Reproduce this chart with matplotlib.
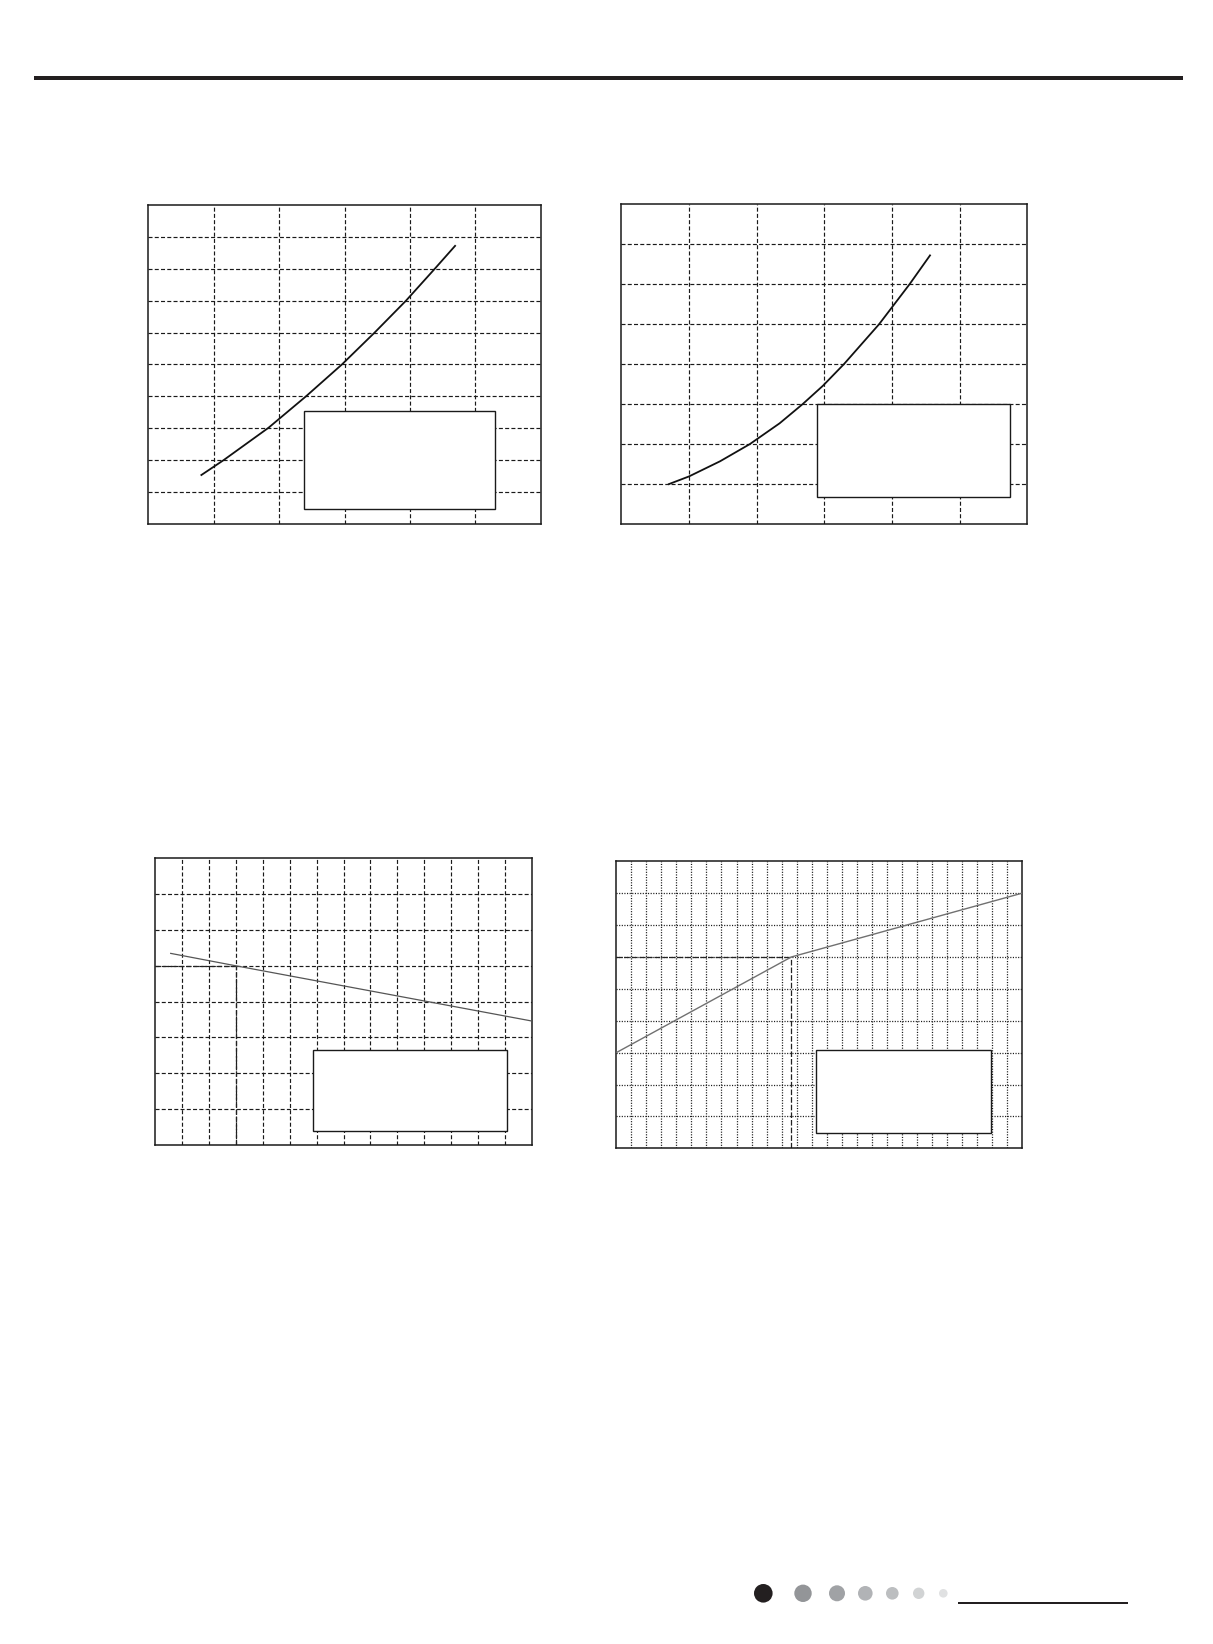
import numpy as np
import matplotlib
matplotlib.use("Agg")
import matplotlib.pyplot as plt
from matplotlib.patches import Rectangle, Circle

W, H = 1213, 1644

## curve data, in grid units (columns along x, rows along y)
c1_x = [0.80, 1.15, 1.84, 2.41, 2.96, 3.46, 3.94, 4.38, 4.70]
c1_y = [1.52, 2.00, 3.02, 4.00, 5.00, 6.00, 7.00, 8.00, 8.74]

c2_x = [0.69, 1.00, 1.46, 1.90, 2.34, 2.68, 2.98, 3.29, 3.81, 4.26, 4.57]
c2_y = [0.99, 1.19, 1.57, 2.00, 2.52, 3.00, 3.46, 4.00, 5.00, 6.00, 6.74]

c3_x = [0.55, 3.00, 14.0]
c3_y = [5.35, 5.00, 3.46]
c3_ref = (3.0, 5.0)

c4_x = [0.0, 11.65, 27.0]
c4_y = [3.0, 6.0, 8.0]
c4_ref = (11.65, 6.0)

## page layout in pixels: (left, top, right, bottom)
charts = [
    dict(box=(148.3, 205.0, 540.7, 524.0), ncol=6, nrow=10, style="dash",
         x=c1_x, y=c1_y, color="#111111", lw=1.3, legend=(304.3, 411.0, 494.7, 509.3)),
    dict(box=(621.3, 204.3, 1027.3, 524.0), ncol=6, nrow=8, style="dash",
         x=c2_x, y=c2_y, color="#111111", lw=1.3, legend=(816.7, 404.3, 1010.3, 497.0)),
    dict(box=(155.3, 858.3, 531.7, 1145.0), ncol=14, nrow=8, style="dash",
         x=c3_x, y=c3_y, color="#555555", lw=0.9, legend=(313.3, 1050.3, 507.3, 1131.3),
         ref=c3_ref),
    dict(box=(616.3, 861.3, 1022.0, 1148.3), ncol=27, nrow=9, style="dot",
         x=c4_x, y=c4_y, color="#707070", lw=1.0, legend=(815.7, 1050.3, 991.3, 1133.3),
         ref=c4_ref),
]

fig = plt.figure(figsize=(W / 100, H / 100), dpi=100)
fig.patch.set_facecolor("white")

for c in charts:
    l, t, r, b = c["box"]
    ax = fig.add_axes([l / W, 1 - b / H, (r - l) / W, (b - t) / H])
    ax.set_xlim(0, c["ncol"])
    ax.set_ylim(0, c["nrow"])
    ax.set_xticks([])
    ax.set_yticks([])
    for s in ax.spines.values():
        s.set_linewidth(1.1)
        s.set_color("#1a1a1a")

    if c["style"] == "dash":
        gkw = dict(color="#1a1a1a", lw=0.85, dashes=(3.4, 1.9))
    else:
        gkw = dict(color="#1a1a1a", lw=0.9, dashes=(0.9, 1.2))
    for i in range(1, c["ncol"]):
        ax.axvline(i, **gkw, zorder=1)
    for j in range(1, c["nrow"]):
        ax.axhline(j, **gkw, zorder=1)

    if "ref" in c:
        rx, ry = c["ref"]
        rkw = dict(color="#222222", lw=0.9, dashes=(4.5, 1.6), zorder=2)
        ax.plot([rx, rx], [0, ry], **rkw)
        ax.plot([0, rx], [ry, ry], **rkw)

    ax.plot(c["x"], c["y"], color=c["color"], lw=c["lw"], zorder=3,
            solid_capstyle="butt", solid_joinstyle="round")

# overlay in pixel units for the page furniture and legend boxes
page = fig.add_axes([0, 0, 1, 1], zorder=10)
page.set_xlim(0, W)
page.set_ylim(H, 0)
page.axis("off")
page.patch.set_alpha(0)

for c in charts:
    l, t, r, b = c["legend"]
    page.add_patch(Rectangle((l, t), r - l, b - t, facecolor="white",
                             edgecolor="#1a1a1a", lw=1.0))

# header rule
page.add_patch(Rectangle((34, 76.5), 1149, 4, facecolor="#231f20", edgecolor="none"))

# footer dots and rule
dot_x = [763.3, 803.0, 837.0, 865.3, 892.3, 918.7, 943.3]
dot_r = [9.3, 8.7, 8.0, 7.3, 6.3, 5.7, 4.3]
dot_c = ["#231f20", "#939598", "#a0a2a5", "#b1b3b6", "#bcbec0", "#d1d3d4", "#e0e1e2"]
for x, rr, col in zip(dot_x, dot_r, dot_c):
    page.add_patch(Circle((x, 1593.3), rr, facecolor=col, edgecolor="none"))
page.add_patch(Rectangle((958, 1601.7), 170, 2.2, facecolor="#231f20", edgecolor="none"))

fig.savefig("out.png", dpi=100, facecolor="white")
